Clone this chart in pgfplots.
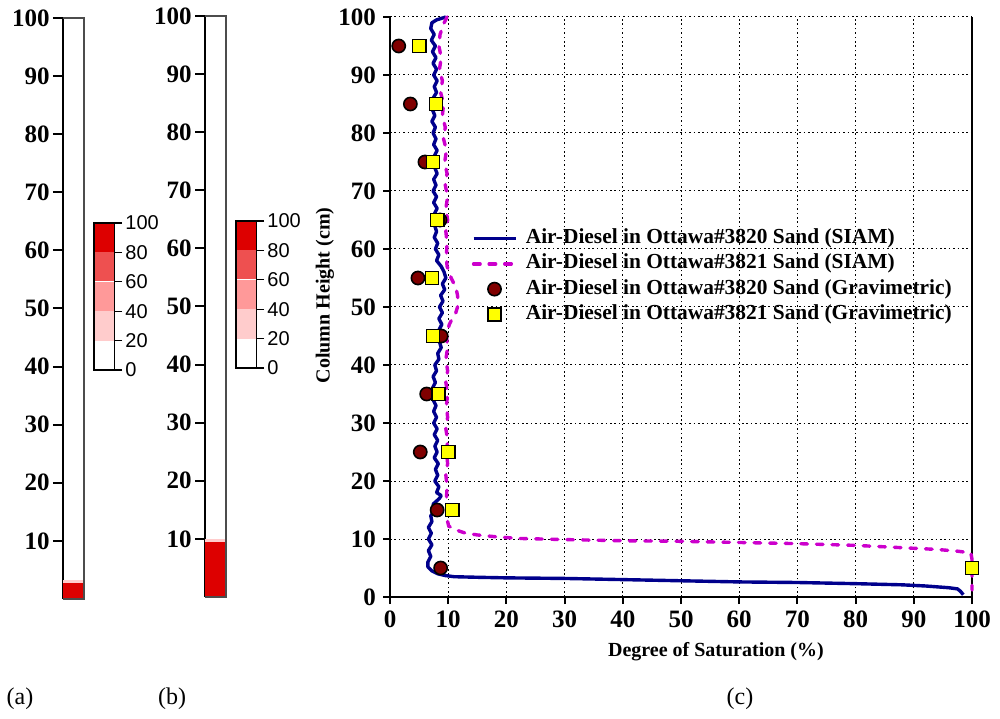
\documentclass[border=0pt]{standalone}
\usepackage{fontspec}
\setmainfont{Liberation Serif}
\newfontfamily\arial{Liberation Sans}
\usepackage{pgfplots}
\pgfplotsset{compat=1.18}
\definecolor{cbred}{RGB}{221,0,0}
\definecolor{cb80}{RGB}{238,80,80}
\definecolor{cb60}{RGB}{255,153,153}
\definecolor{cb40}{RGB}{255,204,204}
\definecolor{navyline}{RGB}{0,0,140}
\definecolor{magline}{RGB}{204,0,204}
\definecolor{darkred}{RGB}{128,0,0}
\definecolor{yel}{RGB}{255,255,0}
\pgfplotsset{
 colstyle/.style={scale only axis, width=10.5pt, height=290.5pt, xmin=0,xmax=1,ymin=0,ymax=100,
   axis x line=none, axis y line*=left, axis line style={line width=1.2pt},
   ytick={10,20,...,100}, tick align=outside, major tick length=5pt,
   tick style={line width=1pt, black},
   yticklabel style={font=\fontsize{12.5}{14}\selectfont\bfseries, inner sep=1.5pt},
   /pgf/number format/assume math mode=true, clip=false},
 cbstyle/.style={scale only axis, width=10pt, height=73.5pt, xmin=0,xmax=1,ymin=0,ymax=100,
   axis x line=none, axis y line*=right, axis line style={line width=0.6pt},
   ytick={0,20,...,100}, tick align=outside, major tick length=4pt,
   tick style={line width=0.6pt,black},
   yticklabel style={font=\arial\fontsize{10}{12}\selectfont, inner sep=1.5pt},
   /pgf/number format/assume math mode=true, clip=false},
}
\begin{document}
\begin{tikzpicture}
\useasboundingbox (0,0) rectangle (500pt,359pt);
% ---- column (a)
\begin{axis}[colstyle, at={(31.5pt,59.5pt)}, anchor=south west]
\addplot[fill=cb40, draw=none] coordinates {(0,3.2) (1,3.2)} \closedcycle;
\addplot[fill=cbred, draw=none] coordinates {(0,2.7) (1,2.7)} \closedcycle;
\draw[black!70, line width=0.6pt] (axis cs:0,0) -- (axis cs:1,0) -- (axis cs:1,100) -- (axis cs:0,100);
\end{axis}
% ---- column (b)
\begin{axis}[colstyle, at={(102.5pt,60.5pt)}, anchor=south west]
\addplot[fill=cb40, draw=none] coordinates {(0,10.0) (1,10.0)} \closedcycle;
\addplot[fill=cbred, draw=none] coordinates {(0,9.5) (1,9.5)} \closedcycle;
\draw[black!70, line width=0.6pt] (axis cs:0,0) -- (axis cs:1,0) -- (axis cs:1,100) -- (axis cs:0,100);
\end{axis}
% ---- colour bar (a)
\begin{axis}[cbstyle, at={(47pt,174pt)}, anchor=south west]
\addplot[fill=cbred, draw=none] coordinates {(0,100) (1,100)} \closedcycle;
\addplot[fill=cb80, draw=none] coordinates {(0,80) (1,80)} \closedcycle;
\addplot[fill=cb60, draw=none] coordinates {(0,60) (1,60)} \closedcycle;
\addplot[fill=cb40, draw=none] coordinates {(0,40) (1,40)} \closedcycle;
\addplot[fill=white, draw=none] coordinates {(0,20) (1,20)} \closedcycle;
\addplot[white, line width=0.6pt] coordinates {(0,60) (1,60)};
\draw[black, line width=0.6pt] (axis cs:1,0) -- (axis cs:0,0) -- (axis cs:0,100) -- (axis cs:1,100);
\end{axis}
% ---- colour bar (b)
\begin{axis}[cbstyle, at={(118pt,175pt)}, anchor=south west]
\addplot[fill=cbred, draw=none] coordinates {(0,100) (1,100)} \closedcycle;
\addplot[fill=cb80, draw=none] coordinates {(0,80) (1,80)} \closedcycle;
\addplot[fill=cb60, draw=none] coordinates {(0,60) (1,60)} \closedcycle;
\addplot[fill=cb40, draw=none] coordinates {(0,40) (1,40)} \closedcycle;
\addplot[fill=white, draw=none] coordinates {(0,20) (1,20)} \closedcycle;
\addplot[white, line width=0.6pt] coordinates {(0,60) (1,60)};
\draw[black, line width=0.6pt] (axis cs:1,0) -- (axis cs:0,0) -- (axis cs:0,100) -- (axis cs:1,100);
\end{axis}
% ---- main plot (c)
\begin{axis}[scale only axis, width=291pt, height=290pt, at={(195pt,60.5pt)}, anchor=south west,
  xmin=0,xmax=100,ymin=0,ymax=100, xtick={0,10,...,100}, ytick={0,10,...,100},
  axis x line*=bottom, axis y line*=left, axis line style={line width=1pt},
  tick align=outside, major tick length=3.5pt, tick style={line width=1pt,black},
  grid=major, grid style={black, line width=0.5pt, dash pattern=on 0.8pt off 1.4pt},
  ticklabel style={font=\fontsize{12.5}{14}\selectfont\bfseries},
  /pgf/number format/assume math mode=true, clip=false,
  xlabel={Degree of Saturation (\%)}, ylabel={Column Height (cm)},
  every axis y label/.style={at={(axis description cs:-0.112,0.52)}, rotate=90, anchor=center, font=\fontsize{10}{12}\selectfont\bfseries},
  every axis x label/.style={at={(axis description cs:0.56,-0.095)}, anchor=center, font=\fontsize{10}{12}\selectfont\bfseries},
  legend cell align=left,
  legend image code/.code={\draw[mark repeat=2,mark phase=2,#1] plot coordinates {(0pt,0pt) (10.5pt,0pt) (21pt,0pt)};},
  legend style={at={(0.1296,0.647)}, anchor=north west, draw=none, fill=none,
    font=\fontsize{10.7}{12}\selectfont\bfseries, column sep=3pt, row sep=0pt,
    nodes={inner sep=1.3pt, text height=0.75em, text depth=0.25em}},
]
\draw[black, line width=0.8pt] (axis cs:100,0) -- (axis cs:100,100);
\addplot[navyline, line width=1.7pt, line join=round] coordinates {
(9.6,100) (8.0,99.5) (7.2,99) (7.0,98) (7.6,97) (7.1,96) (7.8,95) (7.3,94) (7.9,93) (7.4,92)
(8.0,91) (7.5,90) (8.1,89) (7.6,88) (8.0,87) (7.4,86) (7.9,85) (7.3,84) (7.7,83) (7.2,82)
(7.8,81) (7.4,80) (7.9,79) (7.5,78) (8.1,77) (7.6,76) (8.2,75) (7.7,74) (8.1,73) (7.5,72)
(7.9,71) (7.4,70) (8.0,69) (7.5,68) (8.1,67) (7.6,66) (8.2,65) (7.7,64) (8.0,63) (7.6,62)
(8.2,61) (7.8,60) (8.4,59) (8.0,58) (8.8,57) (9.3,56) (9.6,55) (9.0,54) (9.4,53) (8.7,52)
(9.1,51) (8.5,50) (9.0,49) (8.4,48) (8.9,47) (8.4,46) (9.0,45) (8.5,44) (8.8,43) (8.2,42)
(8.4,41) (7.7,40) (8.0,39) (7.4,38) (7.8,37) (7.3,36) (7.9,35) (7.4,34) (7.9,33) (7.5,32)
(8.0,31) (7.5,30) (8.1,29) (7.6,28) (8.2,27) (7.7,26) (8.1,25) (7.6,24) (8.3,23) (7.8,22)
(8.2,21) (7.7,20) (8.4,19) (8.0,18) (8.8,17.5) (8.5,17) (7.4,16) (7.8,15) (7.0,14) (7.2,13)
(6.6,12) (7.1,11) (6.6,10) (7.2,9) (6.6,8) (7.0,7) (6.5,6) (6.5,5.2) (7.2,4.5) (8.2,4.0)
(9.5,3.7) (11,3.5) (15,3.4) (20,3.3) (30,3.2) (40,3.0) (50,2.8) (60,2.6) (70,2.5) (80,2.3)
(88,2.1) (92,1.9) (96,1.6) (97.5,1.4) (98,1.0) (98.5,0.4)
};
\addlegendentry{Air-Diesel in Ottawa\#3820 Sand (SIAM)}
\addplot[magline, line width=1.7pt, line cap=round, dash pattern=on 3.3pt off 4.5pt] coordinates {
(9.8,100) (9.3,99) (8.6,97) (8.4,95) (8.8,93) (8.5,91) (9.0,89) (8.7,87) (9.2,85) (9.0,83)
(9.5,81) (9.2,79) (9.7,77) (9.4,75) (9.8,73) (9.5,71) (9.9,69) (9.6,67) (9.9,65) (9.6,63)
(9.8,61) (9.7,59) (9.8,57) (10.2,56) (10.5,55) (11.0,54) (11.4,53) (11.6,52) (11.7,51) (11.6,50)
(11.3,49) (10.7,48) (10.2,47) (9.9,46) (9.7,45) (9.9,43) (9.6,41) (9.9,39) (9.6,37) (9.9,35)
(9.7,33) (9.9,31) (9.6,29) (9.9,27) (9.7,25) (9.9,23) (9.6,21) (9.8,19) (9.7,17) (9.9,15)
(9.9,13) (10.1,12.2) (11.5,11.5) (13,11.0) (15,10.7) (18,10.4) (22,10.1) (30,9.9) (40,9.7) (50,9.6)
(60,9.4) (70,9.2) (80,8.9) (88,8.5) (94,8.2) (97.5,7.9) (99.8,7.6) (100,6.5) (100,4) (100,1.2)
};
\addlegendentry{Air-Diesel in Ottawa\#3821 Sand (SIAM)}
\addplot[only marks, mark=*, mark size=3.3pt, mark options={fill=darkred, draw=black, line width=0.8pt}] coordinates {
(1.5,95) (3.5,85) (6.0,75) (8.6,65) (4.8,55) (8.8,45) (6.3,35) (5.2,25) (8.1,15) (8.7,5)
};
\addlegendentry{Air-Diesel in Ottawa\#3820 Sand (Gravimetric)}
\addplot[only marks, mark=square*, mark size=3.3pt, mark options={fill=yel, draw=black, line width=0.8pt}] coordinates {
(5.0,95) (7.9,85) (7.4,75) (8.1,65) (7.2,55) (7.4,45) (8.3,35) (10.0,25) (10.7,15) (100,5)
};
\addlegendentry{Air-Diesel in Ottawa\#3821 Sand (Gravimetric)}
\end{axis}
\node[font=\fontsize{12}{14}\selectfont] at (10pt,9.5pt) {(a)};
\node[font=\fontsize{12}{14}\selectfont] at (86pt,9.5pt) {(b)};
\node[font=\fontsize{12}{14}\selectfont] at (370pt,9.5pt) {(c)};
\end{tikzpicture}
\end{document}
